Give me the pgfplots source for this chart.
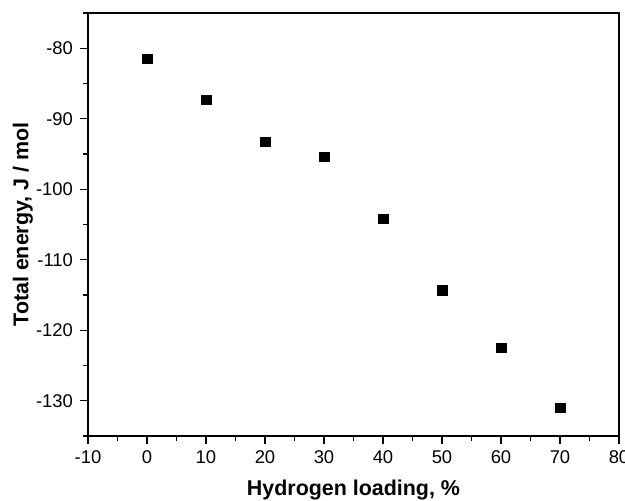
\documentclass[border=0pt]{standalone}
\usepackage{pgfplots}
\pgfplotsset{compat=1.18}
\usepackage{fontspec}
\setmainfont{Liberation Sans}
\begin{document}
\begin{tikzpicture}
\begin{axis}[
 at={(0,0)}, anchor=south west,
 scale only axis, width=531bp, height=423bp,
 xmin=-10, xmax=80, ymin=-135, ymax=-75,
 xtick={-10,0,...,80}, ytick={-130,-120,...,-80},
 minor xtick={-5,5,...,75}, minor ytick={-135,-125,...,-75},
 tick pos=left, tick align=outside,
 major tick length=8bp, minor tick length=4.5bp,
 every tick/.style={black, line width=1.3bp},
 axis line style={black, line width=1.5bp},
 tick label style={font=\fontsize{18.5}{22}\selectfont},
 xticklabel style={yshift=-3bp},
 yticklabel style={xshift=-3.5bp},
 /pgf/number format/assume math mode=true,
 xlabel={Hydrogen loading, \%}, ylabel={Total energy, J / mol},
 label style={font=\bfseries\fontsize{21.5}{25}\selectfont},
 x label style={at={(axis description cs:0.5,0)}, anchor=center, yshift=-54bp},
 y label style={at={(axis description cs:0,0.5)}, anchor=center, yshift=65bp},
]
\addplot[only marks, mark=square*, mark size=4.7bp, black] coordinates {
(0,-81.45) (10,-87.27) (20,-93.27) (30,-95.35) (40,-104.2) (50,-114.3) (60,-122.5) (70,-130.95)
};
\end{axis}
\pgfresetboundingbox
\useasboundingbox (-88bp,-65bp) rectangle (537bp,436bp);
\end{tikzpicture}
\end{document}
